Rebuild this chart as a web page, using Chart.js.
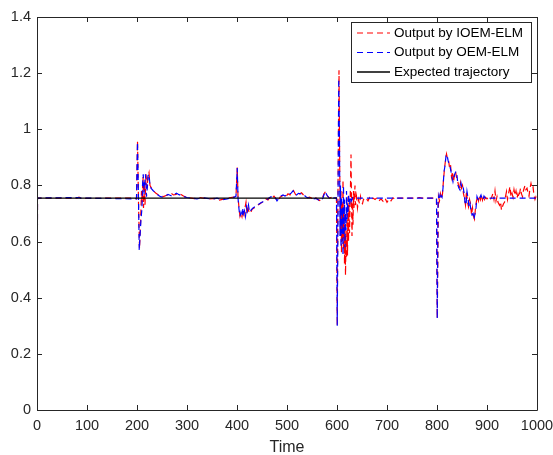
<!DOCTYPE html>
<html>
<head>
<meta charset="utf-8">
<script src="https://cdn.jsdelivr.net/npm/chart.js@4"></script>
<style>
  html, body { margin: 0; padding: 0; background: #fff; }
  #wrap { width: 553px; height: 455px; }
</style>
</head>
<body>
<div id="wrap"><canvas id="chart" width="553" height="455"></canvas></div>
<script>
// tick values
const xTicks = [0, 100, 200, 300, 400, 500, 600, 700, 800, 900, 1000]
const yTicks = [0, 0.2, 0.4, 0.6, 0.8, 1, 1.2, 1.4]

// series labels
const seriesLabels = ['Output by IOEM-ELM', 'Output by OEM-ELM', 'Expected trajectory']

// expected trajectory
const expectedTime = [0, 600]
const expectedValue = [0.755, 0.755]

// output by IOEM-ELM (red)
const ioemTime = [0, 1, 80, 84, 88, 195, 199, 201, 203, 205, 207, 209, 210, 212, 213, 215, 216, 218, 220, 222, 224, 226, 229, 233, 238, 243, 248, 253, 258, 263, 268, 273, 278, 283, 288, 293, 298, 305, 315, 325, 335, 345, 355, 365, 375, 385, 393, 398,
  400.5, 402, 404, 406, 408, 410, 412, 414, 416, 418, 420, 422, 424, 427, 430, 434, 438, 442, 446, 450, 454, 458, 462, 466, 470, 474, 478, 482, 486, 490, 494, 498, 502, 506, 510, 513, 517, 521, 525, 529, 533, 537, 541, 545, 550, 555, 560, 565, 570, 574, 577, 581, 585, 590, 595, 599,
  600.5, 602, 604, 605.5, 607, 608, 609, 610, 611, 612, 613, 614, 615, 616, 617, 618, 619, 620, 621, 622, 623, 624, 625, 626, 627, 628, 629, 630, 631, 632, 633, 634, 636, 637, 639, 641, 643, 645, 647, 649, 651, 653, 656, 659, 662, 665, 668, 672, 676, 680, 684, 688, 692, 696, 700, 704, 708, 712, 716, 720, 760, 765, 770, 799,
  800.5, 803, 805, 807, 809, 811, 813, 815, 817, 819, 821, 823, 825, 827, 829, 831, 833, 835, 837, 839, 841, 843, 845, 847, 849, 851, 853, 855, 857, 859, 861, 863, 865, 867, 869, 871, 873, 875, 877, 879, 881, 883, 885, 887, 889, 891, 893, 895, 897, 900,
  903, 906, 909, 912, 914, 916, 918, 920, 922, 925, 927, 929, 931, 933, 935, 937, 939, 941, 943, 946, 948, 950, 952, 954, 956, 958, 960, 962, 964, 967, 969, 971, 973, 976, 978, 980, 982, 984, 986, 988, 990, 992, 994, 996, 998, 1000]
const ioemValue = [0, 0.755, 0.755, 0.758, 0.754, 0.755, 0.752, 0.958, 0.74, 0.575, 0.66, 0.78, 0.74, 0.83, 0.72, 0.81, 0.73, 0.84, 0.79, 0.83, 0.845, 0.80, 0.79, 0.78, 0.772, 0.766, 0.762, 0.76, 0.764, 0.768, 0.772, 0.766, 0.768, 0.772, 0.768, 0.762, 0.758, 0.756, 0.753, 0.757, 0.754, 0.752, 0.754, 0.748, 0.752, 0.756, 0.758, 0.762,
  0.864, 0.76, 0.72, 0.69, 0.70, 0.688, 0.71, 0.695, 0.72, 0.74, 0.70, 0.72, 0.705, 0.70, 0.715, 0.72, 0.725, 0.73, 0.735, 0.74, 0.742, 0.752, 0.748, 0.758, 0.754, 0.762, 0.752, 0.745, 0.758, 0.762, 0.766, 0.76, 0.77, 0.766, 0.776, 0.782, 0.768, 0.762, 0.77, 0.774, 0.766, 0.76, 0.756, 0.758, 0.754, 0.76, 0.752, 0.746, 0.752, 0.77, 0.778, 0.762, 0.755, 0.758, 0.756, 0.755,
  0.30, 0.80, 1.21, 0.85, 0.62, 0.78, 0.56, 0.74, 0.60, 0.82, 0.57, 0.72, 0.52, 0.66, 0.48, 0.62, 0.54, 0.70, 0.55, 0.76, 0.60, 0.73, 0.63, 0.72, 0.80, 0.91, 0.74, 0.62, 0.76, 0.66, 0.78, 0.72, 0.80, 0.73, 0.76, 0.72, 0.75, 0.735, 0.76, 0.74, 0.735, 0.75, 0.745, 0.752, 0.745, 0.756, 0.748, 0.755, 0.75, 0.756, 0.745, 0.752, 0.744, 0.755, 0.74, 0.752, 0.745, 0.756, 0.75, 0.755, 0.755, 0.757, 0.755, 0.755,
  0.327, 0.76, 0.745, 0.77, 0.752, 0.77, 0.82, 0.86, 0.89, 0.912, 0.895, 0.89, 0.865, 0.875, 0.83, 0.85, 0.812, 0.84, 0.85, 0.83, 0.82, 0.80, 0.784, 0.81, 0.79, 0.80, 0.77, 0.754, 0.73, 0.78, 0.74, 0.724, 0.75, 0.735, 0.695, 0.72, 0.69, 0.68, 0.72, 0.745, 0.76, 0.745, 0.765, 0.75, 0.766, 0.748, 0.762, 0.75, 0.758, 0.752,
  0.758, 0.75, 0.756, 0.772, 0.75, 0.78, 0.745, 0.76, 0.74, 0.73, 0.742, 0.712, 0.725, 0.735, 0.74, 0.76, 0.778, 0.75, 0.77, 0.796, 0.76, 0.772, 0.758, 0.785, 0.765, 0.78, 0.755, 0.77, 0.758, 0.79, 0.77, 0.76, 0.782, 0.80, 0.785, 0.79, 0.775, 0.762, 0.79, 0.807, 0.79, 0.795, 0.765, 0.75, 0.76, 0.755]

// output by OEM-ELM (blue)
const oemTime = [0, 1, 84, 88, 199, 201, 203, 204.5, 206, 208, 210, 211, 212.5, 214, 215, 217, 219, 221, 222, 224, 226, 228, 232, 237, 242, 247, 252, 257, 262, 266, 270, 274, 279, 284, 289, 294, 300, 310, 320, 330, 340, 350, 360, 370, 380, 390, 395, 398,
  400.5, 402, 404, 406, 408, 410, 412, 413.5, 415, 417, 419, 421, 423, 425, 428, 432, 436, 440, 444, 448, 452, 456, 460, 464, 468, 472, 476, 480, 484, 488, 492, 496, 500, 504, 508, 512, 515, 519, 523, 527, 531, 535, 539, 543, 548, 553, 558, 563, 568, 572, 576, 580, 584, 590, 595, 599,
  600.5, 602, 603.5, 605, 606, 607, 608, 609, 610, 611, 612, 613, 614, 615, 616, 617, 618, 619, 620, 621, 622, 623, 625, 627, 629, 631, 633, 636, 799,
  800.5, 802, 804, 806, 808, 810, 812, 814, 816, 818, 820, 822, 824, 826, 828, 830, 832, 834, 836, 838, 840, 842, 844, 846, 848, 850, 852, 854, 856, 858, 860, 862, 864, 866, 868, 870, 872, 874, 876, 878, 880, 882, 884, 886, 888, 890, 892, 894, 896, 899, 902, 906, 1000]
const oemValue = [0, 0.755, 0.757, 0.755, 0.752, 0.955, 0.75, 0.57, 0.62, 0.68, 0.72, 0.80, 0.84, 0.77, 0.80, 0.84, 0.76, 0.80, 0.835, 0.84, 0.80, 0.79, 0.782, 0.774, 0.766, 0.76, 0.758, 0.762, 0.768, 0.765, 0.762, 0.768, 0.772, 0.767, 0.764, 0.76, 0.757, 0.755, 0.752, 0.756, 0.754, 0.751, 0.755, 0.749, 0.752, 0.757, 0.758, 0.762,
  0.862, 0.755, 0.715, 0.69, 0.705, 0.69, 0.72, 0.70, 0.71, 0.69, 0.725, 0.71, 0.73, 0.705, 0.712, 0.72, 0.724, 0.728, 0.734, 0.738, 0.742, 0.745, 0.75, 0.755, 0.76, 0.755, 0.758, 0.745, 0.755, 0.762, 0.766, 0.762, 0.768, 0.77, 0.772, 0.781, 0.77, 0.766, 0.772, 0.77, 0.771, 0.764, 0.758, 0.756, 0.755, 0.752, 0.754, 0.748, 0.745, 0.756, 0.778, 0.765, 0.756, 0.754, 0.756, 0.755,
  0.30, 0.72, 1.18, 0.95, 0.62, 0.80, 0.58, 0.76, 0.63, 0.72, 0.55, 0.80, 0.62, 0.75, 0.58, 0.70, 0.64, 0.78, 0.68, 0.74, 0.70, 0.77, 0.73, 0.76, 0.745, 0.756, 0.754, 0.755, 0.755,
  0.327, 0.74, 0.766, 0.75, 0.765, 0.758, 0.79, 0.849, 0.87, 0.905, 0.91, 0.89, 0.875, 0.867, 0.85, 0.83, 0.813, 0.83, 0.843, 0.85, 0.835, 0.80, 0.79, 0.784, 0.808, 0.79, 0.796, 0.775, 0.74, 0.73, 0.778, 0.755, 0.724, 0.735, 0.71, 0.695, 0.70, 0.679, 0.70, 0.72, 0.76, 0.75, 0.745, 0.758, 0.766, 0.752, 0.748, 0.762, 0.756, 0.754, 0.758, 0.755, 0.755]

function toPoints(times, values) {
    return times.map((t, i) => ({x: t, y: values[i]}))
}

const axisColor = '#262626'
const fontFamily = 'Arial, "Liberation Sans", Helvetica, sans-serif'

// matlab style box, inward ticks and legend inside the axes
const matlabBox = {
    id: 'matlabBox',
    afterDraw(chart) {
        let ctx = chart.ctx
        let a = chart.chartArea
        let xs = chart.scales.x
        let ys = chart.scales.y
        ctx.save()
        ctx.strokeStyle = axisColor
        ctx.lineWidth = 1
        ctx.beginPath()
        ctx.rect(a.left + 0.5, a.top + 0.5, a.right - a.left, a.bottom - a.top)
        ctx.stroke()
        ctx.beginPath()
        xTicks.forEach(v => {
            let px = Math.round(xs.getPixelForValue(v)) + 0.5
            ctx.moveTo(px, a.bottom); ctx.lineTo(px, a.bottom - 5)
            ctx.moveTo(px, a.top); ctx.lineTo(px, a.top + 5)
        })
        yTicks.forEach(v => {
            let py = Math.round(ys.getPixelForValue(v)) + 0.5
            ctx.moveTo(a.left, py); ctx.lineTo(a.left + 5, py)
            ctx.moveTo(a.right, py); ctx.lineTo(a.right - 5, py)
        })
        ctx.stroke()

        // legend
        let bx = 351.5, by = 22.5, bw = 180, bh = 60
        ctx.fillStyle = '#fff'
        ctx.fillRect(bx, by, bw, bh)
        ctx.strokeStyle = axisColor
        ctx.strokeRect(bx, by, bw, bh)
        ctx.font = '13.5px ' + fontFamily
        ctx.textBaseline = 'middle'
        chart.data.datasets.forEach((ds, i) => {
            let y = 33 + i * 19.5
            ctx.strokeStyle = ds.borderColor
            ctx.lineWidth = ds.borderWidth
            ctx.setLineDash(ds.borderDash || [])
            ctx.beginPath()
            ctx.moveTo(357, y); ctx.lineTo(390, y)
            ctx.stroke()
            ctx.setLineDash([])
            ctx.fillStyle = '#000'
            ctx.fillText(ds.label, 394, y)
        })
        ctx.restore()
    }
}

new Chart(document.getElementById('chart'), {
    type: 'line',
    data: {
        datasets: [
            {
                label: seriesLabels[0],
                data: toPoints(ioemTime, ioemValue),
                borderColor: '#ff0000',
                borderWidth: 1.2,
                borderDash: [6, 4],
                order: 2
            },
            {
                label: seriesLabels[1],
                data: toPoints(oemTime, oemValue),
                borderColor: '#0000ff',
                borderWidth: 1.2,
                borderDash: [6, 4],
                order: 1
            },
            {
                label: seriesLabels[2],
                data: toPoints(expectedTime, expectedValue),
                borderColor: '#000000',
                borderWidth: 1.3,
                order: 0
            }
        ]
    },
    options: {
        responsive: false,
        animation: false,
        devicePixelRatio: 1,
        elements: {
            point: {radius: 0},
            line: {tension: 0}
        },
        layout: {padding: {left: 0, right: 16, top: 17, bottom: 0}},
        scales: {
            x: {
                type: 'linear',
                min: 0,
                max: 1000,
                afterBuildTicks: scale => { scale.ticks = xTicks.map(v => ({value: v})) },
                afterFit: scale => {
                    scale.height = 45
                    scale.paddingLeft = 0
                    scale.paddingRight = 0
                },
                grid: {display: false, drawTicks: false},
                border: {display: false},
                ticks: {
                    color: axisColor,
                    padding: 7,
                    maxRotation: 0,
                    callback: value => String(value),
                    font: {family: fontFamily, size: 14.5}
                },
                title: {
                    display: true,
                    text: 'Time',
                    color: axisColor,
                    padding: {top: 0, bottom: -2},
                    font: {family: fontFamily, size: 16}
                }
            },
            y: {
                type: 'linear',
                min: 0,
                max: 1.4,
                afterBuildTicks: scale => { scale.ticks = yTicks.map(v => ({value: v})) },
                afterFit: scale => {
                    scale.width = 37
                    scale.paddingTop = 0
                    scale.paddingBottom = 0
                },
                grid: {display: false, drawTicks: false},
                border: {display: false},
                ticks: {
                    color: axisColor,
                    padding: 6,
                    callback: value => String(value),
                    font: {family: fontFamily, size: 14.5}
                }
            }
        },
        plugins: {
            legend: {display: false},
            tooltip: {enabled: false}
        }
    },
    plugins: [matlabBox]
})
</script>
</body>
</html>
